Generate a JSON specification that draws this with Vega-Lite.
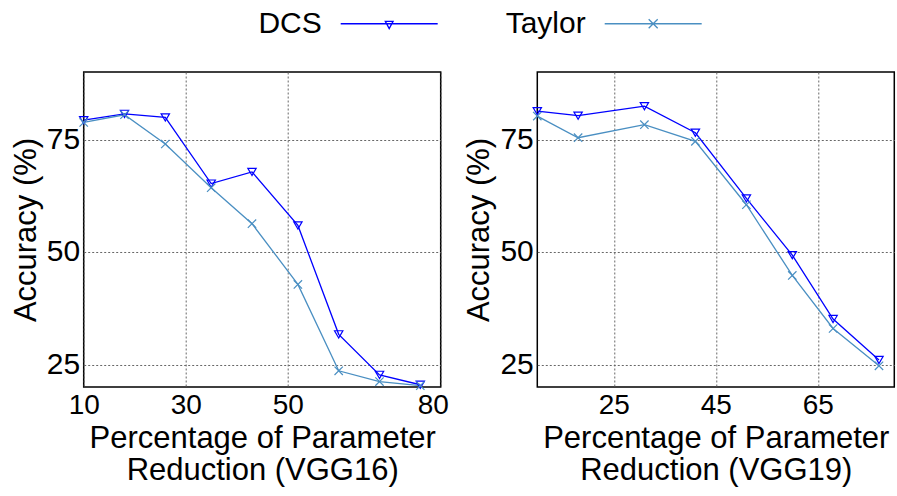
{
  "$schema": "https://vega.github.io/schema/vega-lite/v6.json",
  "padding": {"left": 8.7, "top": -26, "right": 1, "bottom": 2},
  "datasets": {
    "vgg16": [
      {"series": "DCS", "x": 10, "acc": 79.3},
      {"series": "DCS", "x": 18, "acc": 80.7},
      {"series": "DCS", "x": 26, "acc": 79.9},
      {"series": "DCS", "x": 35, "acc": 65.2},
      {"series": "DCS", "x": 43, "acc": 67.8},
      {"series": "DCS", "x": 52, "acc": 55.9},
      {"series": "DCS", "x": 60, "acc": 31.7},
      {"series": "DCS", "x": 68, "acc": 22.7},
      {"series": "DCS", "x": 76, "acc": 20.5},
      {"series": "Taylor", "x": 10, "acc": 78.8},
      {"series": "Taylor", "x": 18, "acc": 80.5},
      {"series": "Taylor", "x": 26, "acc": 74.0},
      {"series": "Taylor", "x": 35, "acc": 64.3},
      {"series": "Taylor", "x": 43, "acc": 56.3},
      {"series": "Taylor", "x": 52, "acc": 42.8},
      {"series": "Taylor", "x": 60, "acc": 23.6},
      {"series": "Taylor", "x": 68, "acc": 21.2},
      {"series": "Taylor", "x": 76, "acc": 20.3}
    ],
    "vgg19": [
      {"series": "DCS", "x": 10, "acc": 81.3},
      {"series": "DCS", "x": 18, "acc": 80.3},
      {"series": "DCS", "x": 31, "acc": 82.4},
      {"series": "DCS", "x": 41, "acc": 76.5},
      {"series": "DCS", "x": 51, "acc": 61.9},
      {"series": "DCS", "x": 60, "acc": 49.3},
      {"series": "DCS", "x": 68, "acc": 35.1},
      {"series": "DCS", "x": 77, "acc": 26.0},
      {"series": "Taylor", "x": 10, "acc": 80.2},
      {"series": "Taylor", "x": 18, "acc": 75.4},
      {"series": "Taylor", "x": 31, "acc": 78.3},
      {"series": "Taylor", "x": 41, "acc": 74.6},
      {"series": "Taylor", "x": 51, "acc": 60.5},
      {"series": "Taylor", "x": 60, "acc": 44.8},
      {"series": "Taylor", "x": 68, "acc": 33.0},
      {"series": "Taylor", "x": 77, "acc": 24.7}
    ]
  },
  "spacing": 12.6,
  "hconcat": [
    {
      "width": 357,
      "height": 315,
      "data": {"name": "vgg16"},
      "encoding": {
        "x": {
          "field": "x", "type": "quantitative",
          "scale": {"domain": [10, 80], "nice": false, "zero": false},
          "axis": {
            "values": [10, 30, 50, 80],
            "title": ["Percentage of Parameter", "Reduction (VGG16)"],
            "labelOffset": {"condition": {"test": "datum.value == 80", "value": -8}, "value": 0}
          }
        },
        "y": {
          "field": "acc", "type": "quantitative",
          "scale": {"domain": [20, 90], "nice": false, "zero": false},
          "axis": {"values": [25, 50, 75], "title": "Accuracy (%)"}
        },
        "color": {
          "field": "series", "type": "nominal",
          "scale": {"domain": ["DCS", "Taylor"], "range": ["#0000ff", "#4a8fc2"]},
          "legend": {
            "title": null, "orient": "none", "legendX": 256, "legendY": -98, "direction": "horizontal",
            "symbolSize": 9409, "symbolStrokeWidth": 1.3, "symbolFillColor": "transparent",
            "labelFontSize": 30, "labelAlign": "right",
            "labelOffset": -117, "columnPadding": 64, "labelLimit": 0,
            "symbolType": {"expr": "datum.value === 'DCS' ? 'M-1,0H1M-0.08,-0.05H0.08L0,0.1Z' : 'M-1,0H1M-0.093,-0.093L0.093,0.093M-0.093,0.093L0.093,-0.093'"}
          }
        }
      },
      "layer": [
        {"mark": {"type": "line", "strokeWidth": 1.3}},
        {
          "transform": [{"filter": "datum.series === 'DCS'"}],
          "mark": {"type": "point", "shape": "triangle-down", "filled": false, "strokeWidth": 1.2, "size": 70, "opacity": 1}
        },
        {
          "transform": [{"filter": "datum.series === 'Taylor'"}],
          "mark": {"type": "point", "shape": "M-1,-1L1,1M-1,1L1,-1", "filled": false, "strokeWidth": 1.2, "size": 70, "opacity": 1}
        }
      ]
    },
    {
      "width": 357,
      "height": 315,
      "data": {"name": "vgg19"},
      "encoding": {
        "x": {
          "field": "x", "type": "quantitative",
          "scale": {"domain": [10, 80], "nice": false, "zero": false},
          "axis": {"values": [25, 45, 65], "title": ["Percentage of Parameter", "Reduction (VGG19)"]}
        },
        "y": {
          "field": "acc", "type": "quantitative",
          "scale": {"domain": [20, 90], "nice": false, "zero": false},
          "axis": {"values": [25, 50, 75], "title": "Accuracy (%)"}
        },
        "color": {
          "field": "series", "type": "nominal",
          "legend": {
            "title": null, "orient": "none", "legendX": 256, "legendY": -98, "direction": "horizontal",
            "symbolSize": 9409, "symbolStrokeWidth": 1.3, "symbolFillColor": "transparent",
            "labelFontSize": 30, "labelAlign": "right",
            "labelOffset": -117, "columnPadding": 64, "labelLimit": 0,
            "symbolType": {"expr": "datum.value === 'DCS' ? 'M-1,0H1M-0.08,-0.05H0.08L0,0.1Z' : 'M-1,0H1M-0.093,-0.093L0.093,0.093M-0.093,0.093L0.093,-0.093'"}
          }
        }
      },
      "layer": [
        {"mark": {"type": "line", "strokeWidth": 1.3}},
        {
          "transform": [{"filter": "datum.series === 'DCS'"}],
          "mark": {"type": "point", "shape": "triangle-down", "filled": false, "strokeWidth": 1.2, "size": 70, "opacity": 1}
        },
        {
          "transform": [{"filter": "datum.series === 'Taylor'"}],
          "mark": {"type": "point", "shape": "M-1,-1L1,1M-1,1L1,-1", "filled": false, "strokeWidth": 1.2, "size": 70, "opacity": 1}
        }
      ]
    }
  ],
  "config": {
    "font": "Liberation Sans",
    "view": {"stroke": "black", "strokeWidth": 1.5},
    "axis": {
      "grid": true, "gridColor": "#666", "gridDash": [2, 2], "gridWidth": 1,
      "ticks": false, "domain": false, "labelFlush": false,
      "labelFontSize": 28, "labelColor": "black", "labelPadding": 5,
      "titleFontSize": 31, "titleFontWeight": "normal", "titleColor": "black", "titlePadding": 4,
      "titleLineHeight": 32
    },
    "axisY": {"labelPadding": 4, "labelFontSize": 30}
  }
}
